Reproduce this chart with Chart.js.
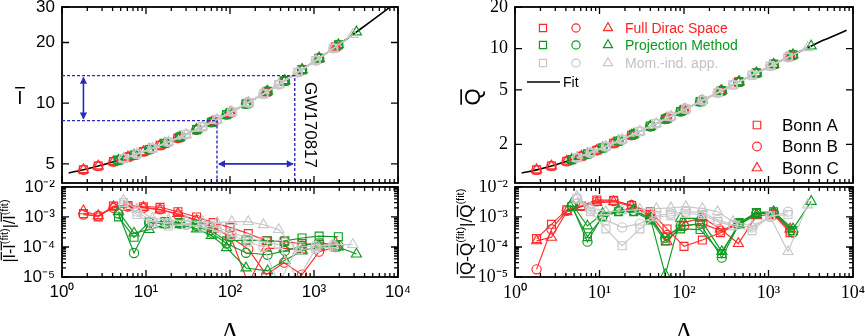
<!DOCTYPE html>
<html><head><meta charset="utf-8">
<script src="https://cdn.jsdelivr.net/npm/chart.js@4.4.1/dist/chart.umd.min.js"></script>
<style>
html,body{margin:0;padding:0;background:#fff;}
body{width:865px;height:336px;overflow:hidden;position:relative;}
canvas{position:absolute;display:block;}
</style></head>
<body>
<canvas id="lt" width="410" height="190" style="left:0px;top:0px"></canvas>
<canvas id="lb" width="410" height="172" style="left:0px;top:180px"></canvas>
<canvas id="rt" width="425" height="190" style="left:440px;top:0px"></canvas>
<canvas id="rb" width="425" height="172" style="left:440px;top:180px"></canvas>
<script>
// ---------------- DATA ----------------
// fit curves
const FIT_LAMBDA = [1.2, 1.8, 2.7, 4.1, 6.1, 9.3, 14.7, 24, 40, 63, 100, 165, 270, 440, 720, 1150, 1800, 2900, 4500, 7000, 10000];
const FIT_I      = [4.51, 4.68, 4.88, 5.13, 5.41, 5.75, 6.18, 6.72, 7.40, 8.12, 8.97, 10.06, 11.35, 12.86, 14.67, 16.72, 19.02, 21.90, 25.03, 28.69, 32.09];
const FIT_Q_LAMBDA = [1.2, 1.8, 2.7, 4.1, 6.1, 9.3, 14.7, 24, 40, 63, 100, 165, 270, 440, 720, 1150, 1800, 2900, 4500, 8400];
const FIT_Q        = [1.237, 1.303, 1.391, 1.506, 1.640, 1.813, 2.039, 2.334, 2.707, 3.103, 3.577, 4.182, 4.883, 5.693, 6.640, 7.674, 8.793, 10.14, 11.54, 13.6];

// Full Dirac Space (red)
const LAM_FDS  = [1.8, 2.7, 4.1, 6.1, 9.3, 14.7, 24, 40, 63, 100, 165, 270, 440, 720, 1150, 1800];
const IBAR_FDS = [4.68, 4.88, 5.13, 5.41, 5.75, 6.18, 6.72, 7.40, 8.12, 8.97, 10.06, 11.35, 12.86, 14.67, 16.72, 19.02];
const QBAR_FDS = [1.303, 1.391, 1.506, 1.640, 1.813, 2.039, 2.334, 2.707, 3.103, 3.577, 4.182, 4.883, 5.693, 6.640, 7.674, 8.793];
const DI_FDS_A = [1.3e-3, 1.0e-3, 2.3e-3, 2.4e-3, 2.2e-3, 2.1e-3, 1.5e-3, 1.0e-3, 6.5e-4, 4.5e-4, 2.8e-4, 1.6e-4, 1.5e-4, 1.3e-4, 1.2e-4, 1.0e-4];
const DI_FDS_B = [1.2e-3, 1.1e-3, 2.0e-3, 2.2e-3, 2.0e-3, 1.8e-3, 1.2e-3, 8.0e-4, 4.5e-4, 2.2e-4, 8.5e-5, 1.2e-5, 3.0e-5, 1.2e-5, 7.0e-5, 1.0e-4];
const DI_FDS_C = [1.6e-3, 1.1e-3, 2.2e-3, 2.1e-3, 2.1e-3, 1.7e-3, 1.3e-3, 7.5e-4, 4.0e-4, 2.5e-4, 6.0e-6, 9.0e-5, 9.0e-5, 8.0e-5, 1.0e-4, 1.4e-4];
const DQ_FDS_A = [1.9e-4, 5.7e-4, 1.75e-3, 2.3e-3, 3.7e-3, 3.6e-3, 2.4e-3, 1.5e-3, 4.0e-4, 1.05e-4, 1.7e-4, 3.0e-4, 6.0e-4, 1.4e-3, 1.2e-3, 3.0e-4];
const DQ_FDS_B = [1.8e-5, 3.9e-4, 1.6e-3, 2.3e-3, 3.3e-3, 3.4e-3, 2.5e-3, 1.2e-3, 2.5e-4, 5.0e-4, 6.0e-4, 3.5e-4, 6.0e-4, 1.3e-3, 1.3e-3, 3.5e-4];
const DQ_FDS_C = [1.6e-4, 2.1e-4, 1.5e-3, 2.2e-3, 3.0e-3, 3.2e-3, 2.3e-3, 1.1e-3, 1.5e-4, 6.5e-4, 9.5e-4, 4.0e-4, 1.3e-4, 1.1e-3, 1.2e-3, 4.0e-4];

// Projection Method (green)
const LAM_PM  = [4.7, 7.2, 10.9, 16.8, 25.4, 40, 60, 91, 155, 280, 450, 720, 1150, 1950, 3200];
const IBAR_PM = [5.22, 5.53, 5.89, 6.32, 6.79, 7.40, 8.03, 8.78, 9.92, 11.45, 12.93, 14.67, 16.72, 19.47, 22.56];
const QBAR_PM = [1.549, 1.704, 1.886, 2.114, 2.372, 2.707, 3.057, 3.474, 4.101, 4.939, 5.734, 6.640, 7.674, 9.008, 10.44];
const DI_PM_A = [1.0e-3, 2.1e-4, 6.8e-4, 7.0e-4, 6.5e-4, 5.5e-4, 3.5e-4, 1.6e-4, 1.7e-4, 1.6e-4, 1.6e-4, 2.0e-4, 2.3e-4, 2.2e-4];
const DI_PM_B = [1.3e-3, 6.3e-5, 6.5e-4, 6.0e-4, 6.0e-4, 5.0e-4, 3.0e-4, 1.3e-4, 6.4e-5, 5.5e-5, 7.4e-5, 1.1e-4, 1.4e-4, 1.1e-4];
const DI_PM_C = [1.5e-3, 2.9e-4, 3.8e-4, 5.5e-4, 5.5e-4, 4.0e-4, 2.4e-4, 9.5e-5, 2.0e-5, 1.6e-5, 3.6e-5, 7.4e-5, 1.1e-4, 1.0e-4, 5.8e-5];
const DQ_PM_A = [2.2e-3, 2.2e-4, 1.0e-3, 1.5e-3, 1.5e-3, 8.0e-4, 1.6e-4, 4.0e-4, 3.8e-4, 6.0e-5, 6.5e-4, 1.4e-3, 1.5e-3, 3.5e-4];
const DQ_PM_B = [2.4e-3, 1.5e-4, 1.1e-3, 1.6e-3, 1.6e-3, 9.0e-4, 2.0e-4, 5.0e-4, 6.0e-4, 4.4e-5, 6.0e-4, 1.3e-3, 1.4e-3, 3.0e-4];
const DQ_PM_C = [2.8e-3, 5.0e-4, 1.3e-3, 1.7e-3, 1.8e-3, 9.0e-4, 1.2e-5, 9.0e-4, 9.0e-4, 7.0e-5, 5.5e-4, 1.2e-3, 1.5e-3, 4.0e-4, 3.3e-3];

// Momentum-independent approximation (gray)
const LAM_MIA  = [5.4, 7.8, 11.9, 18.5, 30, 47, 70, 105, 165, 250, 380, 640, 1050, 1700, 2900];
const IBAR_MIA = [5.32, 5.60, 5.97, 6.42, 7.00, 7.64, 8.30, 9.07, 10.06, 11.13, 12.38, 14.21, 16.29, 18.70, 21.90];
const QBAR_MIA = [1.596, 1.737, 1.929, 2.171, 2.488, 2.840, 3.204, 3.631, 4.182, 4.766, 5.437, 6.401, 7.462, 8.643, 10.14];
const DI_MIA_A = [3.0e-3, 1.2e-3, 5.5e-4, 5.0e-4, 5.5e-4, 5.0e-4, 4.5e-4, 3.0e-4, 2.0e-4, 1.5e-4, 1.2e-4, 8.0e-6, 9.0e-5, 1.0e-4];
const DI_MIA_B = [2.5e-3, 1.5e-3, 7.0e-4, 6.0e-4, 5.5e-4, 4.5e-4, 3.5e-4, 2.5e-4, 1.5e-4, 1.0e-4, 6.0e-6, 1.0e-4, 1.1e-4, 1.2e-4];
const DI_MIA_C = [3.6e-3, 1.8e-3, 9.0e-4, 8.0e-4, 7.5e-4, 7.0e-4, 6.5e-4, 7.0e-4, 7.0e-4, 5.5e-4, 3.8e-4, 7.4e-5, 1.0e-4, 1.2e-4, 1.2e-4];
const DQ_MIA_A = [4.0e-3, 1.5e-3, 4.0e-4, 1.1e-4, 4.0e-4, 1.0e-3, 1.1e-3, 1.3e-3, 1.2e-3, 7.0e-4, 5.0e-4, 3.5e-4, 1.1e-3, 1.2e-3];
const DQ_MIA_B = [4.2e-3, 1.8e-3, 8.0e-4, 4.5e-4, 6.0e-4, 1.1e-3, 1.3e-3, 1.5e-3, 1.4e-3, 8.0e-4, 5.5e-4, 4.5e-4, 1.0e-3, 1.5e-3];
const DQ_MIA_C = [4.8e-3, 2.0e-3, 1.5e-3, 1.6e-3, 1.8e-3, 1.9e-3, 2.0e-3, 2.2e-3, 1.9e-3, 1.5e-3, 7.0e-4, 5.0e-4, 1.0e-3, 7.0e-5, 2.5e-3];

// GW170817 band and annotation anchors
const GW_LAMBDA = [70, 590];
const GW_IBAR = [8.2, 13.7];
const ARROW_LAMBDA = 1.8;
const ARROW_IBAR = 5;

// tick labels
const TOP_I_TICKS = [5, 10, 20, 30];
const TOP_Q_TICKS = [2, 5, 10, 20];

// legend texts
const METHOD_NAMES = {FDS: 'Full Dirac Space', PM: 'Projection Method', MIA: 'Mom.-ind. app.'};
const POTENTIAL_NAMES = {A: 'Bonn A', B: 'Bonn B', C: 'Bonn C'};

// ---------------- STYLE ----------------
const SANS = "'Liberation Sans', Arial, Helvetica, sans-serif";
const SERIF = "'Liberation Serif', 'Times New Roman', serif";
const COLORS = {FDS: '#ff2b2b', PM: '#0e9b22', MIA: '#c8c8c8'};
const TEXTCOL = {FDS: '#ff1f1f', PM: '#0a9a1c', MIA: '#c2c2c2'};
const BLUE = '#2a2abd';
const SHAPES = {A: 'rect', B: 'circle', C: 'triangle'};
const SIZES = {rect: 5.6, circle: 4.6, triangle: 5.8};
const METHODS = ['MIA', 'PM', 'FDS'];
const POTS = ['A', 'B', 'C'];

const LAMBDA = {FDS: LAM_FDS, PM: LAM_PM, MIA: LAM_MIA};
const IBAR = {FDS: IBAR_FDS, PM: IBAR_PM, MIA: IBAR_MIA};
const QBAR = {FDS: QBAR_FDS, PM: QBAR_PM, MIA: QBAR_MIA};
const DEV_I = {FDS: {A: DI_FDS_A, B: DI_FDS_B, C: DI_FDS_C}, PM: {A: DI_PM_A, B: DI_PM_B, C: DI_PM_C}, MIA: {A: DI_MIA_A, B: DI_MIA_B, C: DI_MIA_C}};
const DEV_Q = {FDS: {A: DQ_FDS_A, B: DQ_FDS_B, C: DQ_FDS_C}, PM: {A: DQ_PM_A, B: DQ_PM_B, C: DQ_PM_C}, MIA: {A: DQ_MIA_A, B: DQ_MIA_B, C: DQ_MIA_C}};

function pts(xs, ys, n) {
  const m = n === undefined ? ys.length : n;
  const out = [];
  for (let i = 0; i < m; i++) out.push({x: xs[i], y: ys[i]});
  return out;
}

function topSets(vals, devs, fitL, fitV) {
  const sets = [];
  for (const m of METHODS) for (const p of POTS) {
    const n = devs[m][p].length;
    sets.push({
      data: pts(LAMBDA[m], vals[m], n),
      borderColor: COLORS[m], backgroundColor: 'rgba(0,0,0,0)',
      pointStyle: SHAPES[p], pointRadius: SIZES[SHAPES[p]], pointBorderWidth: 1.2,
      pointBackgroundColor: 'rgba(0,0,0,0)', pointBorderColor: COLORS[m],
      showLine: m === 'MIA', borderWidth: 1.6, pointHoverRadius: 0
    });
  }
  sets.push({data: pts(fitL, fitV), borderColor: '#000', borderWidth: 1.6, pointRadius: 0,
    showLine: true, tension: 0.35, fill: false});
  return sets;
}

function botSets(devs) {
  const sets = [];
  for (const m of METHODS) for (const p of POTS) {
    sets.push({
      data: pts(LAMBDA[m], devs[m][p]),
      borderColor: COLORS[m], backgroundColor: 'rgba(0,0,0,0)',
      pointStyle: SHAPES[p], pointRadius: SIZES[SHAPES[p]], pointBorderWidth: 1.15,
      pointBackgroundColor: 'rgba(0,0,0,0)', pointBorderColor: COLORS[m],
      showLine: true, borderWidth: 1.15, pointHoverRadius: 0, tension: 0
    });
  }
  return sets;
}

// ---------------- helpers ----------------
const SUP = {'0': '⁰', '1': '¹', '2': '²', '3': '³', '4': '⁴', '5': '⁵', '-': '⁻'};
function pow10Label(v) {
  const l = Math.log10(v), e = Math.round(l);
  if (Math.abs(l - e) > 1e-6) return '';
  return '10' + String(e).split('').map(c => SUP[c]).join('');
}
function listLabel(list) {
  return v => list.some(t => Math.abs(v - t) / t < 1e-6) ? String(v) : '';
}
function kind(v) {
  const e = Math.floor(Math.log10(v) + 1e-9);
  const s = v / Math.pow(10, e);
  const r = Math.round(s);
  if (Math.abs(s - r) > 1e-5) return 0;
  return (r === 1 || r === 10) ? 2 : 1;
}

function drawShape(ctx, style, r, x, y) {
  ctx.beginPath();
  if (style === 'rect') {
    const s = Math.SQRT1_2 * r;
    ctx.rect(x - s, y - s, 2 * s, 2 * s);
  } else if (style === 'circle') {
    ctx.arc(x, y, r, 0, Math.PI * 2);
  } else {
    let a = 0;
    ctx.moveTo(x + Math.sin(a) * r, y - Math.cos(a) * r);
    a += 2 * Math.PI / 3; ctx.lineTo(x + Math.sin(a) * r, y - Math.cos(a) * r);
    a += 2 * Math.PI / 3; ctx.lineTo(x + Math.sin(a) * r, y - Math.cos(a) * r);
    ctx.closePath();
  }
  ctx.stroke();
}

// draws text (baseline y) with overline, returns width
function barGlyph(ctx, t, x, y, size) {
  ctx.fillText(t, x, y);
  const w = ctx.measureText(t).width;
  const yy = y - size * 0.716 - size * 0.14;
  ctx.save();
  ctx.lineWidth = Math.max(1, size * 0.075);
  ctx.beginPath();
  const ext = w < size * 0.4 ? size * 0.12 : -w * 0.05;
  ctx.moveTo(x - ext, yy); ctx.lineTo(x + w + ext, yy); ctx.stroke();
  ctx.restore();
  return w;
}

// rotated (-90deg) rich label: segments {t, bar, sup}
function richVertical(ctx, baseX, cy, segs, size, supSize, family) {
  ctx.save();
  ctx.translate(baseX, cy);
  ctx.rotate(-Math.PI / 2);
  ctx.fillStyle = '#000'; ctx.strokeStyle = '#000';
  ctx.textAlign = 'left'; ctx.textBaseline = 'alphabetic';
  let total = 0;
  for (const s of segs) {
    ctx.font = `${s.sup ? supSize : size}px ${family}`;
    total += ctx.measureText(s.t).width;
  }
  let x = -total / 2;
  for (const s of segs) {
    const fs = s.sup ? supSize : size;
    ctx.font = `${fs}px ${family}`;
    const y = s.sup ? -size * 0.45 : 0;
    if (s.bar) x += barGlyph(ctx, s.t, x, y, fs);
    else { ctx.fillText(s.t, x, y); x += ctx.measureText(s.t).width; }
  }
  ctx.restore();
}

// ---------------- plugins ----------------
const framePlugin = {
  id: 'frame',
  afterDatasetsDraw(chart, args, opts) {
    const {ctx, chartArea: a} = chart;
    const x = chart.scales.x, y = chart.scales.y;
    const MAJ = 7, MIN = 4;
    ctx.save();
    ctx.strokeStyle = '#000'; ctx.lineWidth = 1.3; ctx.setLineDash([]);
    ctx.beginPath();
    for (const t of x.ticks) {
      const k = kind(t.value);
      if (!k || t.value < x.min * 0.999 || t.value > x.max * 1.001) continue;
      const px = x.getPixelForValue(t.value);
      const L = k === 2 ? MAJ : MIN;
      ctx.moveTo(px, a.bottom); ctx.lineTo(px, a.bottom - L);
      ctx.moveTo(px, a.top); ctx.lineTo(px, a.top + L);
    }
    let ymarks;
    if (opts.yMarks) ymarks = opts.yMarks.map(v => ({v, k: 2}));
    else ymarks = y.ticks.map(t => ({v: t.value, k: kind(t.value)}));
    for (const m of ymarks) {
      if (!m.k || m.v < y.min * 0.999 || m.v > y.max * 1.001) continue;
      const py = y.getPixelForValue(m.v);
      const L = m.k === 2 ? MAJ : MIN;
      ctx.moveTo(a.left, py); ctx.lineTo(a.left + L, py);
      ctx.moveTo(a.right, py); ctx.lineTo(a.right - L, py);
    }
    ctx.stroke();
    ctx.lineWidth = 1.8;
    ctx.strokeRect(a.left, a.top, a.right - a.left, a.bottom - a.top);
    ctx.restore();
  }
};

const ltDeco = {
  id: 'ltDeco',
  afterDatasetsDraw(chart) {
    const {ctx, chartArea: a} = chart;
    const x = chart.scales.x, y = chart.scales.y;
    const x1 = x.getPixelForValue(GW_LAMBDA[0]), x2 = x.getPixelForValue(GW_LAMBDA[1]);
    const y1 = y.getPixelForValue(GW_IBAR[0]), y2 = y.getPixelForValue(GW_IBAR[1]);
    ctx.save();
    ctx.strokeStyle = BLUE; ctx.fillStyle = BLUE;
    ctx.lineWidth = 1.4; ctx.setLineDash([3, 2]);
    ctx.beginPath();
    ctx.moveTo(a.left, y2); ctx.lineTo(x2, y2); ctx.lineTo(x2, a.bottom);
    ctx.moveTo(a.left, y1); ctx.lineTo(x1, y1); ctx.lineTo(x1, a.bottom);
    ctx.stroke();
    ctx.setLineDash([]);
    ctx.lineWidth = 1.6;
    const ax = x.getPixelForValue(ARROW_LAMBDA), ay = y.getPixelForValue(ARROW_IBAR);
    const H = 7, W = 3.6;
    ctx.beginPath();
    ctx.moveTo(ax, y2 + 2); ctx.lineTo(ax, y1 - 2);
    ctx.moveTo(x1 + 2, ay); ctx.lineTo(x2 - 2, ay);
    ctx.stroke();
    const tri = (p) => { ctx.beginPath(); ctx.moveTo(p[0], p[1]); ctx.lineTo(p[2], p[3]); ctx.lineTo(p[4], p[5]); ctx.closePath(); ctx.fill(); };
    tri([ax, y2 + 1, ax - W, y2 + 1 + H, ax + W, y2 + 1 + H]);
    tri([ax, y1 - 1, ax - W, y1 - 1 - H, ax + W, y1 - 1 - H]);
    tri([x1 + 1, ay, x1 + 1 + H, ay - W, x1 + 1 + H, ay + W]);
    tri([x2 - 1, ay, x2 - 1 - H, ay - W, x2 - 1 - H, ay + W]);
    // GW170817 label
    ctx.fillStyle = '#000';
    ctx.font = `17px ${SANS}`;
    ctx.translate(x2 + 10, (a.top + a.bottom) / 2 + 30);
    ctx.rotate(Math.PI / 2);
    ctx.textAlign = 'center'; ctx.textBaseline = 'alphabetic';
    ctx.fillText('GW170817', 0, 0);
    ctx.restore();
    // y title (I with bar)
    ctx.save();
    ctx.fillStyle = '#000'; ctx.strokeStyle = '#000';
    ctx.font = `19px ${SANS}`; ctx.textAlign = 'left'; ctx.textBaseline = 'alphabetic';
    const w = ctx.measureText('I').width;
    barGlyph(ctx, 'I', 20 - w / 2, 104, 19);
    ctx.restore();
  }
};

const rtDeco = {
  id: 'rtDeco',
  afterDatasetsDraw(chart) {
    const {ctx, chartArea: a} = chart;
    ctx.save();
    // method legend
    const cols = [28, 61, 93];
    const rows = [21, 38, 56];
    ctx.lineWidth = 1.2;
    ctx.font = `14px ${SANS}`; ctx.textAlign = 'left'; ctx.textBaseline = 'middle';
    ['FDS', 'PM', 'MIA'].forEach((m, i) => {
      ctx.strokeStyle = COLORS[m];
      POTS.forEach((p, j) => drawShape(ctx, SHAPES[p], SIZES[SHAPES[p]] * 0.9, a.left + cols[j], a.top + rows[i]));
      ctx.fillStyle = TEXTCOL[m];
      ctx.fillText(METHOD_NAMES[m], a.left + 110, a.top + rows[i] + 1);
    });
    ctx.strokeStyle = '#000'; ctx.lineWidth = 1.6;
    ctx.beginPath(); ctx.moveTo(a.left + 12, a.top + 75); ctx.lineTo(a.left + 45, a.top + 75); ctx.stroke();
    ctx.fillStyle = '#000';
    ctx.fillText('Fit', a.left + 48, a.top + 76);
    // potential legend
    ctx.font = `17px ${SANS}`;
    ctx.strokeStyle = COLORS.FDS; ctx.lineWidth = 1.2;
    POTS.forEach((p, i) => {
      const yy = a.top + 118 + i * 21.5;
      drawShape(ctx, SHAPES[p], SIZES[SHAPES[p]] * 0.95, a.left + 242, yy);
      ctx.fillStyle = '#000';
      ctx.fillText(POTENTIAL_NAMES[p], a.left + 267, yy + 1);
    });
    ctx.restore();
    // y title Q with bar (rotated)
    ctx.save();
    ctx.translate(40, 97);
    ctx.rotate(-Math.PI / 2);
    ctx.fillStyle = '#000'; ctx.strokeStyle = '#000';
    ctx.font = `22px ${SANS}`; ctx.textAlign = 'left'; ctx.textBaseline = 'alphabetic';
    const w = ctx.measureText('Q').width;
    barGlyph(ctx, 'Q', -w / 2, 0, 22);
    ctx.restore();
  }
};

const lbDeco = {
  id: 'lbDeco',
  afterDatasetsDraw(chart) {
    richVertical(chart.ctx, 15, 51, [
      {t: '|'}, {t: 'I', bar: true}, {t: '-'}, {t: 'I', bar: true}, {t: '(fit)', sup: true},
      {t: '|/'}, {t: 'I', bar: true}, {t: '(fit)', sup: true}
    ], 16, 11, SANS);
  }
};
const rbDeco = {
  id: 'rbDeco',
  afterDatasetsDraw(chart) {
    richVertical(chart.ctx, 32, 54, [
      {t: '|'}, {t: 'Q', bar: true}, {t: '-'}, {t: 'Q', bar: true}, {t: '(fit)', sup: true},
      {t: '|/'}, {t: 'Q', bar: true}, {t: '(fit)', sup: true}
    ], 17, 11, SANS);
  }
};

// ---------------- axes ----------------
function xHidden() {
  return {type: 'logarithmic', min: 1, max: 10000,
    ticks: {display: false, autoSkip: false}, grid: {display: false, drawTicks: false}, border: {display: false},
    afterFit(s) { s.height = 0; s.paddingLeft = 0; s.paddingRight = 0; s.paddingTop = 0; s.paddingBottom = 0; }};
}
function xShown(family, size) {
  return {type: 'logarithmic', min: 1, max: 10000,
    ticks: {autoSkip: false, maxRotation: 0, minRotation: 0, padding: 5, color: '#000',
      font: {family, size}, callback: v => pow10Label(v)},
    grid: {display: false, drawTicks: false}, border: {display: false},
    title: {display: true, text: 'Λ', color: '#000', font: {family: SERIF, size: 25, lineHeight: 1}, padding: {top: 0, bottom: 6}},
    afterFit(s) { s.height = 75; s.paddingLeft = 0; s.paddingRight = 0; }};
}
function yAxis(min, max, cb, family, size, width) {
  return {type: 'logarithmic', min, max,
    ticks: {autoSkip: false, padding: 7, color: '#000', font: {family, size}, callback: cb},
    grid: {display: false, drawTicks: false}, border: {display: false},
    afterFit(s) { s.width = width; s.paddingTop = 0; s.paddingBottom = 0; }};
}

function mk(id, datasets, padding, x, y, frameOpts, extra) {
  return new Chart(document.getElementById(id), {
    type: 'scatter',
    data: {datasets},
    options: {
      responsive: false, animation: false, events: [],
      layout: {padding},
      plugins: {legend: {display: false}, tooltip: {enabled: false}, frame: frameOpts},
      scales: {x, y}
    },
    plugins: [framePlugin, extra]
  });
}

Chart.defaults.font.family = SANS;

mk('lt', topSets(IBAR, DEV_I, FIT_LAMBDA, FIT_I), {left: 0, top: 7, right: 12, bottom: 4},
  xHidden(), yAxis(4.02, 30, listLabel(TOP_I_TICKS), SANS, 17, 62), {yMarks: TOP_I_TICKS}, ltDeco);

mk('lb', botSets(DEV_I), {left: 0, top: 6, right: 12, bottom: 0},
  xShown(SANS, 17), yAxis(1e-5, 1e-2, v => pow10Label(v), SANS, 17, 62), {}, lbDeco);

mk('rt', topSets(QBAR, DEV_Q, FIT_Q_LAMBDA, FIT_Q), {left: 0, top: 7, right: 12, bottom: 4},
  xHidden(), yAxis(1.045, 20.13, listLabel(TOP_Q_TICKS), SERIF, 18, 75), {yMarks: TOP_Q_TICKS}, rtDeco);

mk('rb', botSets(DEV_Q), {left: 0, top: 6, right: 12, bottom: 0},
  xShown(SERIF, 18), yAxis(1e-5, 1e-2, v => pow10Label(v), SERIF, 18, 75), {}, rbDeco);
</script>
</body></html>
